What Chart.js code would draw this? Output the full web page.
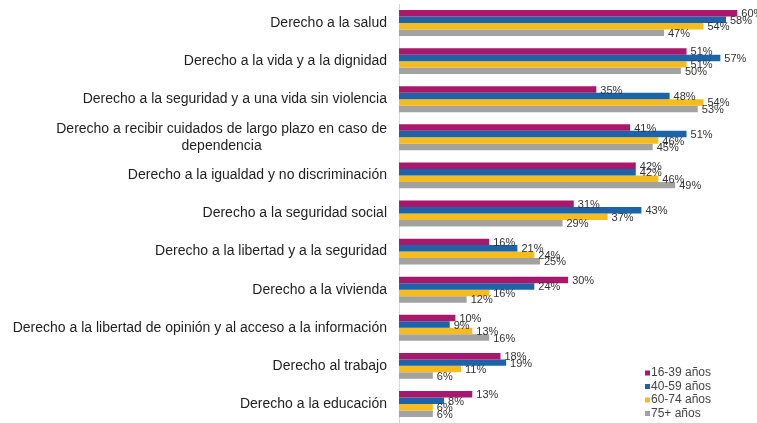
<!DOCTYPE html>
<html>
<head>
<meta charset="utf-8">
<script src="https://cdn.jsdelivr.net/npm/chart.js@4.4.1/dist/chart.umd.min.js"></script>
<style>
  html, body { margin: 0; padding: 0; background: #fff; }
  #wrap { width: 757px; height: 423px; position: relative; }
</style>
</head>
<body>
<div id="wrap"><canvas id="rightsChart"></canvas></div>
<script>
// ---- data ----
const categories = [
  'Derecho a la salud',
  'Derecho a la vida y a la dignidad',
  'Derecho a la seguridad y a una vida sin violencia',
  ['Derecho a recibir cuidados de largo plazo en caso de', 'dependencia'],
  'Derecho a la igualdad y no discriminación',
  'Derecho a la seguridad social',
  'Derecho a la libertad y a la seguridad',
  'Derecho a la vivienda',
  'Derecho a la libertad de opinión y al acceso a la información',
  'Derecho al trabajo',
  'Derecho a la educación'
];
const seriesNames = ['16-39 años', '40-59 años', '60-74 años', '75+ años'];
const age16to39 = [60, 51, 35, 41, 42, 31, 16, 30, 10, 18, 13];
const age40to59 = [58, 57, 48, 51, 42, 43, 21, 24, 9, 19, 8];
const age60to74 = [54, 51, 54, 46, 46, 37, 24, 16, 13, 11, 6];
const age75plus = [47, 50, 53, 45, 49, 29, 25, 12, 16, 6, 6];
const colors = ['#a8196d', '#1c63a8', '#f6bb1c', '#a2a2a2'];

const FONT = '"Liberation Sans", Arial, sans-serif';

// category labels, drawn right aligned as a block (wrapped lines centred)
const catLabels = {
  id: 'catLabels',
  afterDraw(chart) {
    const ctx = chart.ctx;
    const y = chart.scales.y;
    const right = y.right - 12;
    ctx.save();
    ctx.font = '14px ' + FONT;
    ctx.fillStyle = '#1e1e1e';
    ctx.textBaseline = 'middle';
    ctx.textAlign = 'center';
    categories.forEach((lab, i) => {
      const lines = Array.isArray(lab) ? lab : [lab];
      const w = Math.max(...lines.map(l => ctx.measureText(l).width));
      const cx = right - w / 2;
      const cy = y.getPixelForValue(i);
      const lh = 17;
      lines.forEach((l, k) => {
        ctx.fillText(l, cx, cy + (k - (lines.length - 1) / 2) * lh);
      });
    });
    ctx.restore();
  }
};

// value labels right of each bar
const valueLabels = {
  id: 'valueLabels',
  afterDatasetsDraw(chart) {
    const ctx = chart.ctx;
    ctx.save();
    ctx.font = '11px ' + FONT;
    ctx.fillStyle = '#333';
    ctx.textBaseline = 'middle';
    ctx.textAlign = 'left';
    chart.data.datasets.forEach((ds, di) => {
      chart.getDatasetMeta(di).data.forEach((bar, i) => {
        ctx.fillText(ds.data[i] + '%', bar.x + 4, bar.y + 1);
      });
    });
    ctx.restore();
  }
};

// small legend in the lower right corner
const cornerLegend = {
  id: 'cornerLegend',
  afterDraw(chart) {
    const ctx = chart.ctx;
    ctx.save();
    ctx.font = '12px ' + FONT;
    ctx.textBaseline = 'middle';
    ctx.textAlign = 'left';
    chart.data.datasets.forEach((ds, i) => {
      const yy = 373 + i * 13.5;
      ctx.fillStyle = ds.backgroundColor;
      ctx.fillRect(645, yy - 2.5, 5, 5);
      ctx.fillStyle = '#444';
      ctx.fillText(ds.label, 651, yy);
    });
    ctx.restore();
  }
};

const ctx = document.getElementById('rightsChart').getContext('2d');
const chart = new Chart(ctx, {
  type: 'bar',
  data: {
    labels: categories,
    datasets: [
      { label: seriesNames[0], data: age16to39, backgroundColor: colors[0] },
      { label: seriesNames[1], data: age40to59, backgroundColor: colors[1] },
      { label: seriesNames[2], data: age60to74, backgroundColor: colors[2] },
      { label: seriesNames[3], data: age75plus, backgroundColor: colors[3] }
    ]
  },
  options: {
    indexAxis: 'y',
    responsive: true,
    maintainAspectRatio: false,
    animation: false,
    layout: { padding: { top: 4, right: 0, bottom: 0, left: 0 } },
    datasets: { bar: { categoryPercentage: 0.68, barPercentage: 1.0 } },
    plugins: { legend: { display: false }, tooltip: { enabled: false } },
    scales: {
      x: {
        min: 0,
        max: 63.5,
        display: false,
        grid: { display: false }
      },
      y: {
        grid: { display: false, drawTicks: false },
        border: { display: true, color: '#d9d9d9', width: 1 },
        ticks: { display: false },
        afterFit(scale) { scale.width = 399; }
      }
    }
  },
  plugins: [catLabels, valueLabels, cornerLegend]
});
</script>
</body>
</html>
